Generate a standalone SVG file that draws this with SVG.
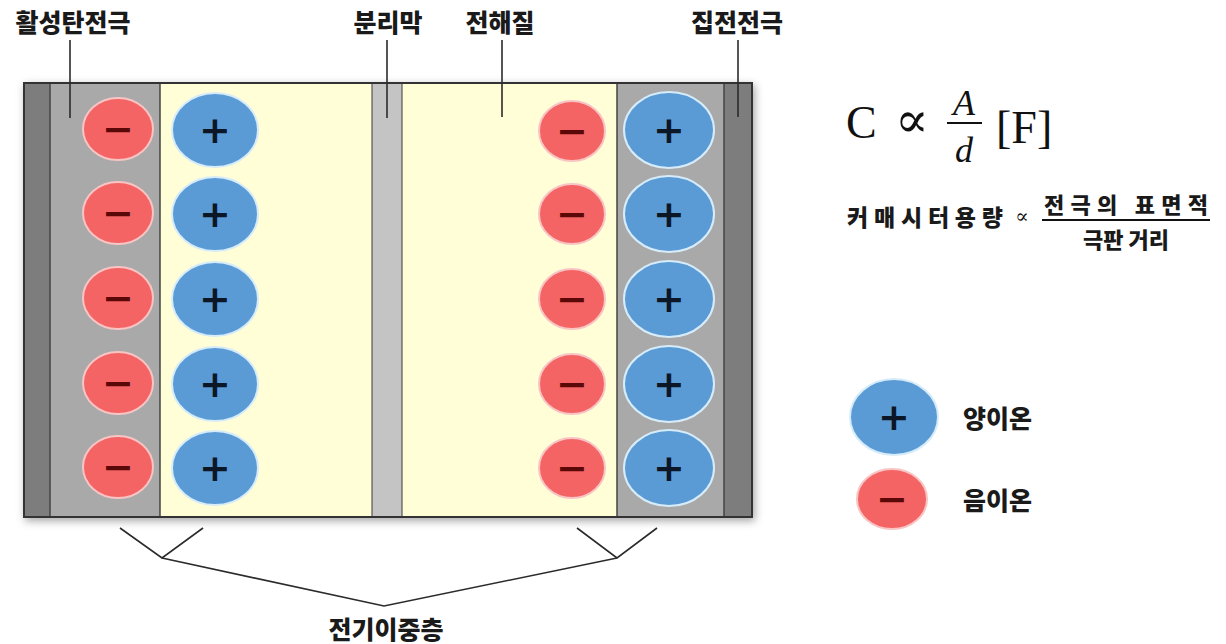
<svg xmlns="http://www.w3.org/2000/svg" width="1226" height="644" viewBox="0 0 1226 644">
  <defs>
    <filter id="shadow" x="-5%" y="-5%" width="110%" height="112%">
      <feDropShadow dx="2" dy="3" stdDeviation="4" flood-color="#000" flood-opacity="0.35"/>
    </filter>
  </defs>
  <style>
    .lbl { font-family: "Noto Sans CJK KR", "Noto Sans", sans-serif; font-weight: 900; font-size: 25px; fill: #1a1a1a; text-anchor: middle; }
    .leader { stroke: #2b2b2b; stroke-width: 1.6; fill: none; }
    .neg { fill: #f46464; stroke: #f8c4c4; stroke-width: 2; }
    .pos { fill: #5b9bd5; stroke: #d6ecfa; stroke-width: 2; }
    .negs { font-family: "DejaVu Sans", sans-serif; font-weight: bold; font-size: 38px; fill: #5a0808; text-anchor: middle; }
    .poss { font-family: "DejaVu Sans", sans-serif; font-weight: bold; font-size: 38px; fill: #0b1626; text-anchor: middle; }
    .math { font-family: "Liberation Serif", "DejaVu Serif", serif; fill: #111; }
    .kr { font-family: "Noto Sans CJK KR", "Noto Sans", sans-serif; font-weight: 900; fill: #1a1a1a; }
    .brk { stroke: #2b2b2b; stroke-width: 1.6; fill: none; }
  </style>
  <rect width="1226" height="644" fill="#ffffff"/>

  <g id="cell">
    <rect x="24" y="83" width="728" height="434" fill="#fffed6" stroke="#333" stroke-width="2" filter="url(#shadow)"/>
    <rect x="25" y="84" width="25" height="432" fill="#7d7d7d"/>
    <rect x="50" y="84" width="110" height="432" fill="#a9a9a9"/>
    <line x1="50" y1="84" x2="50" y2="516" stroke="#444" stroke-width="1.5"/>
    <line x1="160" y1="84" x2="160" y2="516" stroke="#444" stroke-width="1.5"/>
    <rect x="372" y="84" width="30" height="432" fill="#c4c4c4"/>
    <line x1="372" y1="84" x2="372" y2="516" stroke="#555" stroke-width="1.2"/>
    <line x1="402" y1="84" x2="402" y2="516" stroke="#555" stroke-width="1.2"/>
    <rect x="617" y="84" width="107" height="432" fill="#a9a9a9"/>
    <rect x="724" y="84" width="27" height="432" fill="#7d7d7d"/>
    <line x1="617" y1="84" x2="617" y2="516" stroke="#444" stroke-width="1.5"/>
    <line x1="724" y1="84" x2="724" y2="516" stroke="#444" stroke-width="1.5"/>
    <rect x="24" y="83" width="728" height="434" fill="none" stroke="#333" stroke-width="2"/>
  </g>

  <g id="ions-left-negative">
    <ellipse class="neg" cx="118" cy="129" rx="35" ry="31"/><text class="negs" x="118" y="142">−</text>
    <ellipse class="neg" cx="118" cy="213" rx="35" ry="31"/><text class="negs" x="118" y="226">−</text>
    <ellipse class="neg" cx="118" cy="298" rx="35" ry="31"/><text class="negs" x="118" y="311">−</text>
    <ellipse class="neg" cx="118" cy="383" rx="35" ry="31"/><text class="negs" x="118" y="396">−</text>
    <ellipse class="neg" cx="118" cy="467" rx="35" ry="31"/><text class="negs" x="118" y="480">−</text>
  </g>
  <g id="ions-left-positive">
    <ellipse class="pos" cx="215" cy="130" rx="43" ry="37"/><text class="poss" x="215" y="143">+</text>
    <ellipse class="pos" cx="215" cy="214" rx="43" ry="37"/><text class="poss" x="215" y="227">+</text>
    <ellipse class="pos" cx="215" cy="299" rx="43" ry="37"/><text class="poss" x="215" y="312">+</text>
    <ellipse class="pos" cx="215" cy="384" rx="43" ry="37"/><text class="poss" x="215" y="397">+</text>
    <ellipse class="pos" cx="215" cy="468" rx="43" ry="37"/><text class="poss" x="215" y="481">+</text>
  </g>
  <g id="ions-right-negative">
    <ellipse class="neg" cx="572" cy="131" rx="33" ry="30"/><text class="negs" x="572" y="144">−</text>
    <ellipse class="neg" cx="572" cy="214" rx="33" ry="30"/><text class="negs" x="572" y="227">−</text>
    <ellipse class="neg" cx="572" cy="299" rx="33" ry="30"/><text class="negs" x="572" y="312">−</text>
    <ellipse class="neg" cx="572" cy="384" rx="33" ry="30"/><text class="negs" x="572" y="397">−</text>
    <ellipse class="neg" cx="572" cy="468" rx="33" ry="30"/><text class="negs" x="572" y="481">−</text>
  </g>
  <g id="ions-right-positive">
    <ellipse class="pos" cx="669" cy="130" rx="45" ry="38"/><text class="poss" x="669" y="143">+</text>
    <ellipse class="pos" cx="669" cy="214" rx="45" ry="38"/><text class="poss" x="669" y="227">+</text>
    <ellipse class="pos" cx="669" cy="299" rx="45" ry="38"/><text class="poss" x="669" y="312">+</text>
    <ellipse class="pos" cx="669" cy="384" rx="45" ry="38"/><text class="poss" x="669" y="397">+</text>
    <ellipse class="pos" cx="669" cy="468" rx="45" ry="38"/><text class="poss" x="669" y="481">+</text>
  </g>

  <g id="label-activated-carbon">
    <text class="lbl" x="73" y="32">활성탄전극</text>
  </g>
  <g id="label-separator">
    <text class="lbl" x="388" y="32">분리막</text>
  </g>
  <g id="label-electrolyte">
    <text class="lbl" x="500" y="32">전해질</text>
  </g>
  <g id="label-collector">
    <text class="lbl" x="737" y="32">집전전극</text>
  </g>

  <g id="connectors">
    <line class="leader" x1="70" y1="40" x2="70" y2="118"/>
    <line class="leader" x1="387" y1="40" x2="387" y2="118"/>
    <line class="leader" x1="502" y1="40" x2="502" y2="117"/>
    <line class="leader" x1="738" y1="40" x2="738" y2="117"/>
    <polyline class="brk" points="120,528 162,558 203,528"/>
    <polyline class="brk" points="577,528 617,558 657,528"/>
    <polyline class="brk" points="162,558 384,606 617,558"/>
  </g>

  <g id="label-edl">
    <text class="lbl" x="386" y="639" font-size="27">전기이중층</text>
  </g>

  <g id="formula">
    <text class="math" x="846" y="138" font-size="46">C</text>
    <text class="math" x="912" y="137" font-size="50" text-anchor="middle">∝</text>
    <text class="math" x="964" y="115" font-size="36" font-style="italic" text-anchor="middle">A</text>
    <line x1="947" y1="123" x2="982" y2="123" stroke="#111" stroke-width="2"/>
    <text class="math" x="964" y="162" font-size="36" font-style="italic" text-anchor="middle">d</text>
    <text class="math" x="996" y="143" font-size="46">[F]</text>
  </g>

  <g id="formula-korean">
    <text class="kr" x="847" y="226" font-size="23" textLength="156" lengthAdjust="spacing">커매시터용량</text>
    <text class="math" x="1022" y="223" font-size="20" text-anchor="middle">∝</text>
    <text class="kr" x="1126" y="213" font-size="22" text-anchor="middle" textLength="164" lengthAdjust="spacing">전극의 표면적</text>
    <line x1="1042" y1="220" x2="1210" y2="220" stroke="#111" stroke-width="2"/>
    <text class="kr" x="1126" y="248" font-size="22" text-anchor="middle">극판 거리</text>
  </g>

  <g id="legend-positive">
    <ellipse class="pos" cx="894" cy="417" rx="44" ry="38"/>
    <text class="poss" x="894" y="430">+</text>
    <text class="kr" x="963" y="428" font-size="25">양이온</text>
  </g>
  <g id="legend-negative">
    <ellipse class="neg" cx="892" cy="499" rx="35" ry="30"/>
    <text class="negs" x="892" y="512">−</text>
    <text class="kr" x="963" y="510" font-size="25">음이온</text>
  </g>
</svg>
